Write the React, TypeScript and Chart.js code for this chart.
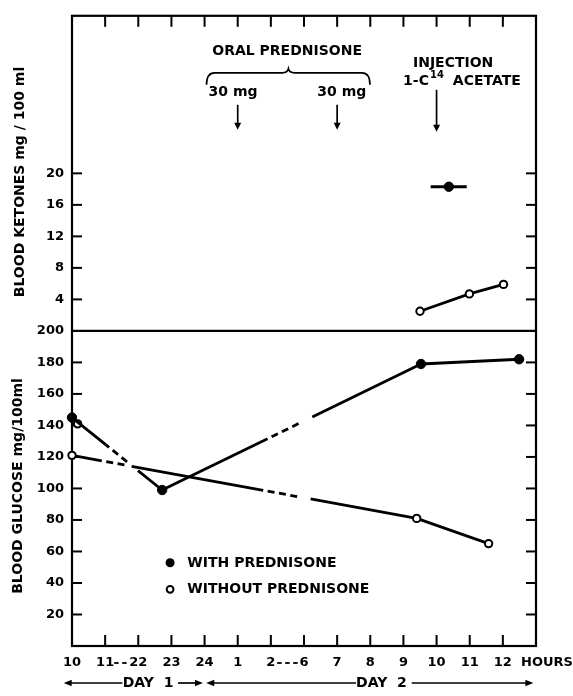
import { useEffect, useRef } from 'react';
import { Chart, registerables } from 'chart.js';

Chart.register(...registerables);

const FONT = '"DejaVu Sans", sans-serif';

// ---- axis tick labels ----
const hourTickLabels = ['10', '11', '22', '23', '24', '1', '2', '6', '7', '8', '9', '10', '11', '12', ''];
const glucoseTicks = [20, 40, 60, 80, 100, 120, 140, 160, 180, 200];
const ketoneTicks = [4, 8, 12, 16, 20];

// ---- blood glucose (mg/100ml) ----
const withPredHours = [0, 2.72, 10.53, 13.49];
const withPredGlucose = [145, 99, 179, 182];
const withoutPredHours = [0, 10.4, 12.57];
const withoutPredGlucose = [121, 81, 65];
const withoutExtraHours = [0.17];
const withoutExtraGlucose = [141];

// ---- blood ketones (mg/100 ml) ----
const withPredKetoneHours = [11.37];
const withPredKetone = [18.3];
const withPredKetoneSpan = [10.82, 11.91];
const withoutPredKetoneHours = [10.5, 11.99, 13.02];
const withoutPredKetone = [2.5, 4.7, 5.9];

// time-axis breaks drawn dashed on the lines (hour-index units)
const withBreaks = [[1.12, 1.99], [5.9, 7.25]];
const withoutBreaks = [[0.9, 1.8], [5.77, 7.2]];

const KETONE_BASE = 200;
const KETONE_SCALE = 5;
const kToAxis = (k: number) => KETONE_BASE + KETONE_SCALE * k;

function breakDash(breaks: number[][]) {
  return (c: any) => {
    const xs = c.chart.scales.x;
    const p0 = c.p0, p1 = c.p1;
    const dx = p1.x - p0.x, dy = p1.y - p0.y;
    const L = Math.hypot(dx, dy);
    if (!L || !dx) return [];
    const pattern: number[] = [];
    let pos = 0;
    let any = false;
    const gap = 4.5, dash = 7;
    for (const [b0, b1] of breaks) {
      const t0 = ((xs.getPixelForValue(b0) - p0.x) / dx) * L;
      const t1 = ((xs.getPixelForValue(b1) - p0.x) / dx) * L;
      if (t1 <= 0 || t0 >= L) continue;
      any = true;
      pattern.push(Math.max(t0 - pos, 0.01));
      let p = t0 + gap;
      pattern.push(gap);
      while (p + dash + gap <= t1) {
        pattern.push(dash, gap);
        p += dash + gap;
      }
      pattern[pattern.length - 1] += Math.max(t1 - p, 0);
      pos = t1;
    }
    if (!any) return [];
    pattern.push(L - pos + 1000, 0);
    return pattern;
  };
}

function line(ctx: CanvasRenderingContext2D, x0: number, y0: number, x1: number, y1: number) {
  ctx.beginPath();
  ctx.moveTo(x0, y0);
  ctx.lineTo(x1, y1);
  ctx.stroke();
}

function arrowDown(ctx: CanvasRenderingContext2D, x: number, y0: number, y1: number) {
  ctx.lineWidth = 1.7;
  line(ctx, x, y0, x, y1 - 5);
  ctx.beginPath();
  ctx.moveTo(x - 3.5, y1 - 7);
  ctx.lineTo(x + 3.5, y1 - 7);
  ctx.lineTo(x, y1);
  ctx.closePath();
  ctx.fill();
}

function arrowH(ctx: CanvasRenderingContext2D, xFrom: number, xTip: number, y: number) {
  ctx.lineWidth = 1.7;
  const dir = Math.sign(xTip - xFrom);
  line(ctx, xFrom, y, xTip - dir * 5, y);
  ctx.beginPath();
  ctx.moveTo(xTip - dir * 8, y - 3.2);
  ctx.lineTo(xTip - dir * 8, y + 3.2);
  ctx.lineTo(xTip, y);
  ctx.closePath();
  ctx.fill();
}

const framePlugin = {
  id: 'frame',
  beforeDatasetsDraw(chart: any) {
    const ctx: CanvasRenderingContext2D = chart.ctx;
    const { left, right, top, bottom } = chart.chartArea;
    const xs = chart.scales.x, ys = chart.scales.y;
    ctx.save();
    ctx.strokeStyle = '#000';
    ctx.lineWidth = 2.2;
    ctx.strokeRect(left, top, right - left, bottom - top);
    const yDiv = ys.getPixelForValue(KETONE_BASE);
    line(ctx, left, yDiv, right, yDiv);
    ctx.lineWidth = 2;
    const yVals = glucoseTicks.filter((v) => v < KETONE_BASE).concat(ketoneTicks.map(kToAxis));
    for (const v of yVals) {
      const py = ys.getPixelForValue(v);
      line(ctx, left, py, left + 10, py);
      line(ctx, right - 10, py, right, py);
    }
    for (let i = 1; i < hourTickLabels.length - 1; i++) {
      const px = xs.getPixelForValue(i);
      line(ctx, px, bottom, px, bottom - 11);
      line(ctx, px, top, px, top + 11);
    }
    ctx.restore();
  },
};

const annotPlugin = {
  id: 'annot',
  afterDatasetsDraw(chart: any) {
    const ctx: CanvasRenderingContext2D = chart.ctx;
    const { top, bottom } = chart.chartArea;
    const xs = chart.scales.x;
    const X = (v: number) => xs.getPixelForValue(v);
    ctx.save();
    ctx.fillStyle = '#000';
    ctx.strokeStyle = '#000';
    ctx.textBaseline = 'middle';
    ctx.font = `bold 14px ${FONT}`;

    // oral prednisone
    ctx.textAlign = 'center';
    ctx.fillText('ORAL PREDNISONE', X(6.49), top + 35.5);
    // brace
    const bx0 = X(4.06), bx1 = X(8.99), bpk = X(6.53);
    const by = top + 57;
    ctx.lineWidth = 1.7;
    ctx.beginPath();
    ctx.moveTo(bx0, by + 12);
    ctx.quadraticCurveTo(bx0, by, bx0 + 8, by);
    ctx.lineTo(bpk - 6, by);
    ctx.quadraticCurveTo(bpk - 1, by, bpk, by - 4);
    ctx.quadraticCurveTo(bpk + 1, by, bpk + 6, by);
    ctx.lineTo(bx1 - 8, by);
    ctx.quadraticCurveTo(bx1, by, bx1, by + 12);
    ctx.stroke();
    ctx.fillText('30 mg', X(4.86), top + 77);
    ctx.fillText('30 mg', X(8.14), top + 77);
    arrowDown(ctx, X(5), top + 89, top + 114);
    arrowDown(ctx, X(8), top + 89, top + 114);

    // injection
    ctx.fillText('INJECTION', X(11.5), top + 47.5);
    ctx.textAlign = 'left';
    const ix = X(9.99);
    ctx.fillText('1-C', ix, top + 66);
    const w1 = ctx.measureText('1-C').width;
    ctx.font = `bold 10px ${FONT}`;
    ctx.fillText('14', ix + w1 + 1, top + 60);
    ctx.font = `bold 14px ${FONT}`;
    ctx.fillText('ACETATE', X(11.49), top + 66);
    arrowDown(ctx, X(11), top + 74, top + 116);

    // legend
    ctx.lineWidth = 2;
    ctx.beginPath();
    ctx.arc(X(2.96), 562.7, 4.5, 0, Math.PI * 2);
    ctx.fill();
    ctx.beginPath();
    ctx.arc(X(2.96), 589.3, 3.4, 0, Math.PI * 2);
    ctx.fillStyle = '#fff';
    ctx.fill();
    ctx.stroke();
    ctx.fillStyle = '#000';
    ctx.textAlign = 'left';
    ctx.fillText('WITH PREDNISONE', X(3.48), 563);
    ctx.fillText('WITHOUT PREDNISONE', X(3.48), 589.5);

    // axis titles
    ctx.textAlign = 'center';
    ctx.save();
    ctx.translate(20, 182);
    ctx.rotate(-Math.PI / 2);
    ctx.fillText('BLOOD KETONES mg / 100 ml', 0, 0);
    ctx.restore();
    ctx.save();
    ctx.translate(18, 486);
    ctx.rotate(-Math.PI / 2);
    ctx.fillText('BLOOD GLUCOSE mg/100ml', 0, 0);
    ctx.restore();

    // x label extras
    const ly = bottom + 17;
    ctx.font = `bold 13px ${FONT}`;
    ctx.fillText('HOURS', X(14) + 11, ly);
    ctx.lineWidth = 1.8;
    for (const [cx, n] of [[X(1.46), 2], [X(6.5), 3]] as number[][]) {
      const dw = 4.5, dg = 3.5;
      const tot = n * dw + (n - 1) * dg;
      for (let k = 0; k < n; k++) {
        const sx = cx - tot / 2 + k * (dw + dg);
        line(ctx, sx, ly, sx + dw, ly);
      }
    }

    // day arrows
    const dy = bottom + 37;
    ctx.font = `bold 14px ${FONT}`;
    ctx.textAlign = 'left';
    ctx.fillText('DAY  1', X(1.53), dy);
    arrowH(ctx, X(1.52), X(-0.25), dy);
    arrowH(ctx, X(3.2), X(3.95), dy);
    arrowH(ctx, X(8.57), X(4.05), dy);
    ctx.fillText('DAY  2', X(8.57), dy);
    arrowH(ctx, X(10.25), X(13.92), dy);
    ctx.restore();
  },
};

export default function App() {
  const ref = useRef<HTMLCanvasElement>(null);
  useEffect(() => {
    if (!ref.current) return;
    const pts = (xs: number[], ys: number[]) => xs.map((x, i) => ({ x, y: ys[i] }));
    const lineBase = {
      borderColor: '#000',
      borderWidth: 2.8,
      borderCapStyle: 'butt',
      pointStyle: 'circle',
      pointBorderColor: '#000',
      clip: false,
      tension: 0,
    };
    const chart = new Chart(ref.current, {
      type: 'scatter',
      data: {
        datasets: [
          {
            ...lineBase,
            label: 'With prednisone (glucose)',
            data: pts(withPredHours, withPredGlucose),
            showLine: true,
            pointRadius: 4.7,
            pointBackgroundColor: '#000',
            pointBorderWidth: 1,
            segment: { borderDash: breakDash(withBreaks) },
          },
          {
            ...lineBase,
            label: 'Without prednisone (glucose)',
            data: pts(withoutPredHours, withoutPredGlucose),
            showLine: true,
            pointRadius: 3.7,
            pointBackgroundColor: '#fff',
            pointBorderWidth: 2,
            segment: { borderDash: breakDash(withoutBreaks) },
          },
          {
            ...lineBase,
            label: 'Without prednisone (glucose, extra)',
            data: pts(withoutExtraHours, withoutExtraGlucose),
            showLine: false,
            pointRadius: 3.7,
            pointBackgroundColor: '#fff',
            pointBorderWidth: 2,
          },
          {
            ...lineBase,
            label: 'With prednisone (ketones)',
            data: pts(withPredKetoneHours, withPredKetone.map(kToAxis)),
            showLine: false,
            pointRadius: 4.7,
            pointBackgroundColor: '#000',
            pointBorderWidth: 1,
          },
          {
            ...lineBase,
            label: 'With prednisone (ketones, span)',
            data: withPredKetoneSpan.map((x) => ({ x, y: kToAxis(withPredKetone[0]) })),
            showLine: true,
            borderWidth: 3,
            pointRadius: 0,
          },
          {
            ...lineBase,
            label: 'Without prednisone (ketones)',
            data: pts(withoutPredKetoneHours, withoutPredKetone.map(kToAxis)),
            showLine: true,
            pointRadius: 3.7,
            pointBackgroundColor: '#fff',
            pointBorderWidth: 2,
          },
        ],
      },
      options: {
        animation: false,
        responsive: false,
        layout: { padding: { left: 0, right: 37, top: 6, bottom: 0 } },
        plugins: { legend: { display: false }, tooltip: { enabled: false } },
        scales: {
          x: {
            type: 'linear',
            min: 0,
            max: 14,
            afterFit: (s: any) => {
              s.height = 50;
            },
            grid: { display: false, drawTicks: false },
            border: { display: false },
            ticks: {
              stepSize: 1,
              autoSkip: false,
              maxRotation: 0,
              padding: 9,
              color: '#000',
              font: { family: FONT, size: 13, weight: 'bold' },
              callback: (v: any) => hourTickLabels[Math.round(Number(v))] ?? '',
            },
          },
          y: {
            type: 'linear',
            min: 0,
            max: 400,
            afterFit: (s: any) => {
              s.width = 72;
            },
            grid: { display: false, drawTicks: false },
            border: { display: false },
            ticks: {
              stepSize: 20,
              autoSkip: false,
              padding: 8,
              color: '#000',
              font: { family: FONT, size: 13, weight: 'bold' },
              callback: (v: any) => {
                const n = Number(v);
                if (n <= KETONE_BASE) return glucoseTicks.includes(n) ? String(n) : '';
                const k = (n - KETONE_BASE) / KETONE_SCALE;
                return ketoneTicks.includes(k) ? String(k) : '';
              },
            },
          },
        },
      },
      plugins: [framePlugin, annotPlugin],
    } as any);
    return () => chart.destroy();
  }, []);
  return (
    <div style={{ position: 'absolute', left: 0, top: 0, width: 573, height: 696, background: '#fff' }}>
      <canvas ref={ref} width={573} height={696} />
    </div>
  );
}
